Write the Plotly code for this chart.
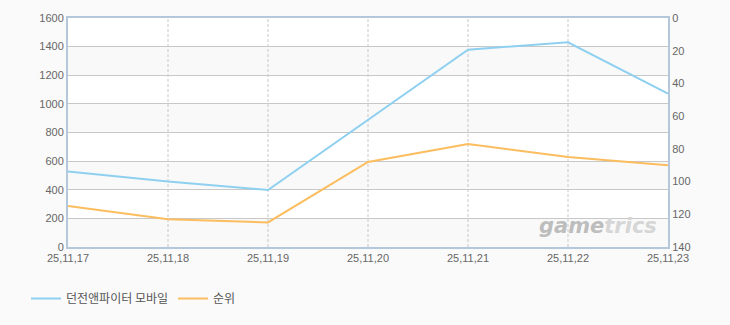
import plotly.graph_objects as go

dates = ["25,11,17", "25,11,18", "25,11,19", "25,11,20", "25,11,21", "25,11,22", "25,11,23"]
users = [528, 457, 398, 890, 1379, 1430, 1071]
rank = [115, 123, 125, 88, 77, 85, 90]
series_names = ["던전앤파이터 모바일", "순위"]
left_ticks = [0, 200, 400, 600, 800, 1000, 1200, 1400, 1600]
right_ticks = [0, 20, 40, 60, 80, 100, 120, 140]

fig = go.Figure()
fig.add_trace(go.Scatter(x=dates, y=users, name=series_names[0], mode="lines",
                         line=dict(color="#8fd0f0", width=2), yaxis="y"))
fig.add_trace(go.Scatter(x=dates, y=rank, name=series_names[1], mode="lines",
                         line=dict(color="#fbbd5e", width=2), yaxis="y2"))

shapes = []
for i in range(0, len(left_ticks) - 1, 2):
    shapes.append(dict(type="rect", xref="paper", yref="y", x0=0, x1=1,
                       y0=left_ticks[i], y1=left_ticks[i + 1],
                       fillcolor="#f9f9f9", line=dict(width=0), layer="below"))
for d in dates[1:-1]:
    shapes.append(dict(type="line", xref="x", yref="paper", x0=d, x1=d, y0=0, y1=1,
                       line=dict(color="#c8c8c8", width=1, dash="3px,2px"), layer="below"))

font_tick = dict(family="Liberation Sans, Arial, sans-serif", size=11, color="#666666")

fig.update_layout(
    width=730, height=325,
    margin=dict(l=68, r=62, t=16, b=77),
    paper_bgcolor="#fafafa", plot_bgcolor="#ffffff",
    showlegend=True,
    legend=dict(orientation="h", x=-0.07, y=-0.225, xanchor="left", yanchor="middle",
                font=dict(family="Noto Sans CJK KR, sans-serif", size=12, color="#555555"),
                bgcolor="rgba(0,0,0,0)"),
    xaxis=dict(type="category", range=[0, len(dates) - 1], showgrid=False,
               showline=True, linecolor="#b4c8dc", linewidth=2, mirror=True,
               tickfont=font_tick, ticks="", zeroline=False),
    yaxis=dict(range=[0, 1600], tickvals=left_ticks, showgrid=True, gridcolor="#c8c8c8",
               gridwidth=1, showline=True, linecolor="#b4c8dc", linewidth=2,
               tickfont=font_tick, ticks="", zeroline=False),
    yaxis2=dict(range=[140, 0], tickvals=right_ticks, overlaying="y", side="right",
                showgrid=False, showline=True, linecolor="#b4c8dc", linewidth=2,
                tickfont=font_tick, ticks="", zeroline=False),
    shapes=shapes,
    annotations=[dict(text="<b><i><span style='color:#bdbdbd'>game</span><span style='color:#d6d6d6'>trics</span></i></b>",
                      xref="paper", yref="paper",
                      x=0.985, y=0.03, xanchor="right", yanchor="bottom", showarrow=False,
                      font=dict(family="DejaVu Sans, sans-serif", size=21, color="#c8c8c8"))],
)

fig.write_html("out.html")
